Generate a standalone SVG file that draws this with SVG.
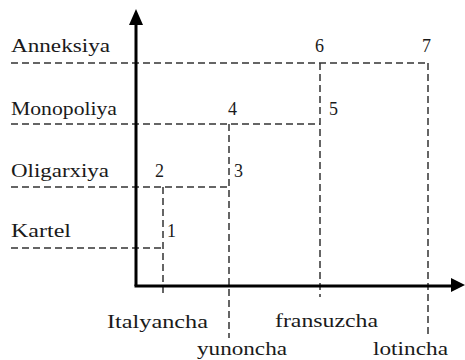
<svg xmlns="http://www.w3.org/2000/svg" width="465" height="360" viewBox="0 0 465 360">
<style>
text{font-family:"Liberation Serif","DejaVu Serif",serif;font-size:18px;fill:#1a1a1a}
.d{stroke:#333;stroke-width:1.5;stroke-dasharray:7,4;fill:none}
.ax{stroke:#000;stroke-width:3;fill:none}
</style>
<rect width="465" height="360" fill="#fff"/>
<g id="connectors">
<line class="d" x1="11" y1="63" x2="428" y2="63"/>
<line class="d" x1="11" y1="124" x2="320" y2="124"/>
<line class="d" x1="11" y1="187" x2="229" y2="187"/>
<line class="d" x1="11" y1="248" x2="163" y2="248"/>
<line class="d" x1="163" y1="187" x2="163" y2="297"/>
<line class="d" x1="229" y1="124" x2="229" y2="338"/>
<line class="d" x1="320" y1="63" x2="320" y2="297"/>
<line class="d" x1="428" y1="63" x2="428" y2="337"/>
</g>
<g id="axes">
<path class="ax" d="M136,286 L136,22"/>
<path d="M136,9 L129,25 L143,25 Z" fill="#000"/>
<path class="ax" d="M134.5,286 L454,286"/>
<path d="M465,285 L451,278 L451,292 Z" fill="#000"/>
</g>
<g id="y-labels">
<text x="11" y="52" textLength="99" lengthAdjust="spacingAndGlyphs">Anneksiya</text>
<text x="11" y="115" textLength="106" lengthAdjust="spacingAndGlyphs">Monopoliya</text>
<text x="11" y="177" textLength="98" lengthAdjust="spacingAndGlyphs">Oligarxiya</text>
<text x="11" y="237" textLength="60" lengthAdjust="spacingAndGlyphs">Kartel</text>
</g>
<g id="x-labels">
<text x="107" y="328" textLength="101" lengthAdjust="spacingAndGlyphs">Italyancha</text>
<text x="197" y="355" textLength="90" lengthAdjust="spacingAndGlyphs">yunoncha</text>
<text x="275" y="327" textLength="103" lengthAdjust="spacingAndGlyphs">fransuzcha</text>
<text x="373" y="355" textLength="75" lengthAdjust="spacingAndGlyphs">lotincha</text>
</g>
<g id="p1"><text x="167" y="237">1</text></g>
<g id="p2"><text x="155" y="177">2</text></g>
<g id="p3"><text x="234" y="177">3</text></g>
<g id="p4"><text x="228" y="115">4</text></g>
<g id="p5"><text x="329" y="115">5</text></g>
<g id="p6"><text x="315" y="52">6</text></g>
<g id="p7"><text x="422" y="52">7</text></g>
</svg>
